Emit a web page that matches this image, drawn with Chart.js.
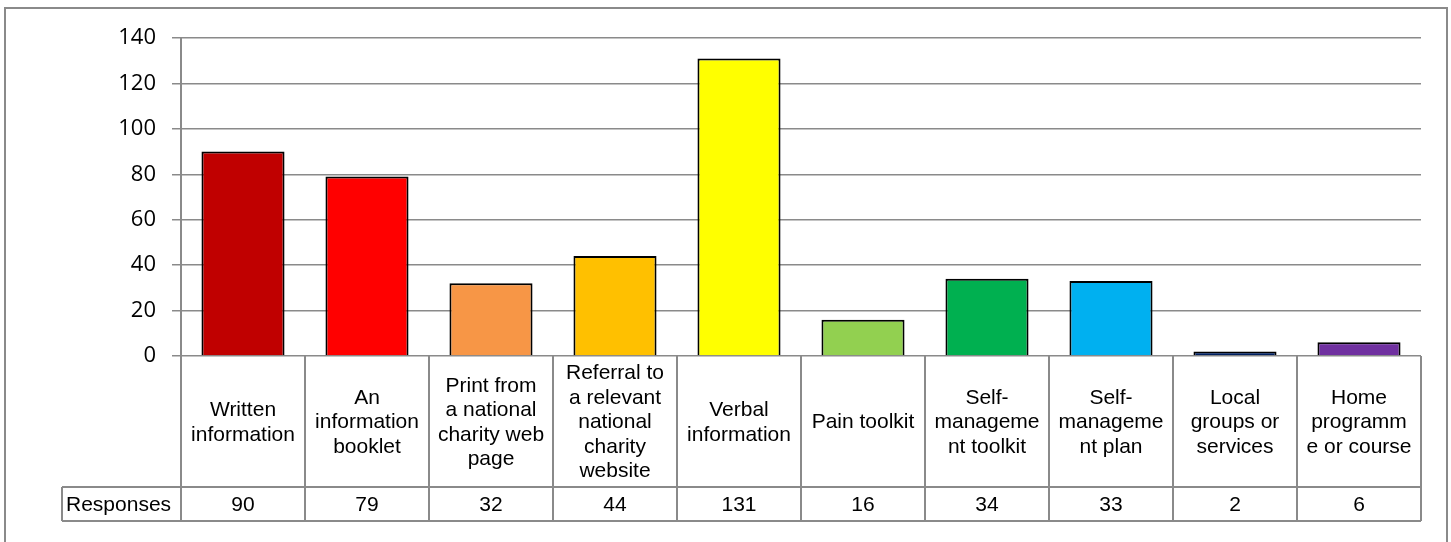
<!DOCTYPE html>
<html>
<head>
<meta charset="utf-8">
<script src="https://cdn.jsdelivr.net/npm/chart.js@4/dist/chart.umd.min.js"></script>
<style>
  html, body { margin: 0; padding: 0; background: #fff; }
  #wrap { width: 1451px; height: 542px; position: relative; }
</style>
</head>
<body>
<div id="wrap"><canvas id="myChart"></canvas></div>
<script>
// categories, as the wrapped lines shown in the data table
var categories = [
  ["Written", "information"],
  ["An", "information", "booklet"],
  ["Print from", "a national", "charity web", "page"],
  ["Referral to", "a relevant", "national", "charity", "website"],
  ["Verbal", "information"],
  ["Pain toolkit"],
  ["Self-", "manageme", "nt toolkit"],
  ["Self-", "manageme", "nt plan"],
  ["Local", "groups or", "services"],
  ["Home", "programm", "e or course"]
];
var responses = [90, 79, 32, 44, 131, 16, 34, 33, 2, 6];
var seriesName = "Responses";
var barColors = ["#C00000", "#FF0000", "#F79646", "#FFC000", "#FFFF00",
                 "#92D050", "#00B050", "#00B0F0", "#002060", "#7030A0"];
var yTicks = [0, 20, 40, 60, 80, 100, 120, 140];

var lineGrey = "#8a8a8a";
var tableFont = "21px 'Liberation Sans', Arial, sans-serif";

// draws the outer frame and the data table under the plot
var dataTable = {
  id: "dataTable",
  beforeDraw: function(chart) {
    var ctx = chart.ctx;
    ctx.save();
    ctx.strokeStyle = lineGrey;
    ctx.lineWidth = 2;
    ctx.strokeRect(5, 8, 1442, 600);
    ctx.restore();
  },
  afterDraw: function(chart) {
    var ctx = chart.ctx;
    var x = chart.scales.x;
    var area = chart.chartArea;
    var n = categories.length;
    var w = (area.right - area.left) / n;
    var top = area.bottom;
    var mid = top + 131;
    var bot = mid + 34;
    ctx.save();
    ctx.strokeStyle = lineGrey;
    ctx.lineWidth = 2;
    ctx.beginPath();
    for (var i = 0; i <= n; i++) {
      var px = Math.round(area.left + i * w);
      ctx.moveTo(px, top);
      ctx.lineTo(px, bot);
    }
    ctx.moveTo(62, mid); ctx.lineTo(area.right, mid);
    ctx.moveTo(62, bot); ctx.lineTo(area.right, bot);
    ctx.moveTo(62, mid); ctx.lineTo(62, bot);
    ctx.stroke();

    ctx.fillStyle = "#000";
    ctx.font = tableFont;
    ctx.textAlign = "center";
    ctx.textBaseline = "middle";
    var lh = 24.5;
    for (var i = 0; i < n; i++) {
      var cx = x.getPixelForValue(i);
      var lines = categories[i];
      var y0 = (top + mid) / 2 - (lines.length - 1) * lh / 2 + 1;
      lines.forEach(function(t, k) {
        ctx.fillText(t, cx, y0 + k * lh);
      });
      ctx.fillText(String(responses[i]), cx, (mid + bot) / 2 + 1);
    }
    ctx.textAlign = "left";
    ctx.fillText(seriesName, 66, (mid + bot) / 2 + 1);
    ctx.restore();
  }
};

var chart = new Chart(document.getElementById("myChart"), {
  type: "bar",
  data: {
    labels: categories.map(function(l) { return l.join(" "); }),
    datasets: [{
      label: seriesName,
      data: responses,
      backgroundColor: barColors,
      borderColor: "#000",
      borderWidth: 2,
      barPercentage: 0.67,
      categoryPercentage: 1
    }]
  },
  options: {
    responsive: true,
    maintainAspectRatio: false,
    animation: false,
    layout: { padding: { left: 0, top: 38, right: 30, bottom: 186 } },
    plugins: { legend: { display: false }, tooltip: { enabled: false } },
    scales: {
      x: { display: false, offset: true },
      y: {
        min: 0,
        max: 140,
        afterFit: function(scale) { scale.width = 181; },
        afterBuildTicks: function(scale) {
          scale.ticks = yTicks.map(function(v) { return { value: v }; });
        },
        border: { color: lineGrey, width: 2 },
        grid: { color: lineGrey, lineWidth: 1.5, tickLength: 9, drawTicks: true },
        ticks: {
          color: "#000",
          padding: 16,
          font: { family: "'Open Sans', sans-serif", size: 22 }
        }
      }
    }
  },
  plugins: [dataTable]
});
</script>
</body>
</html>
